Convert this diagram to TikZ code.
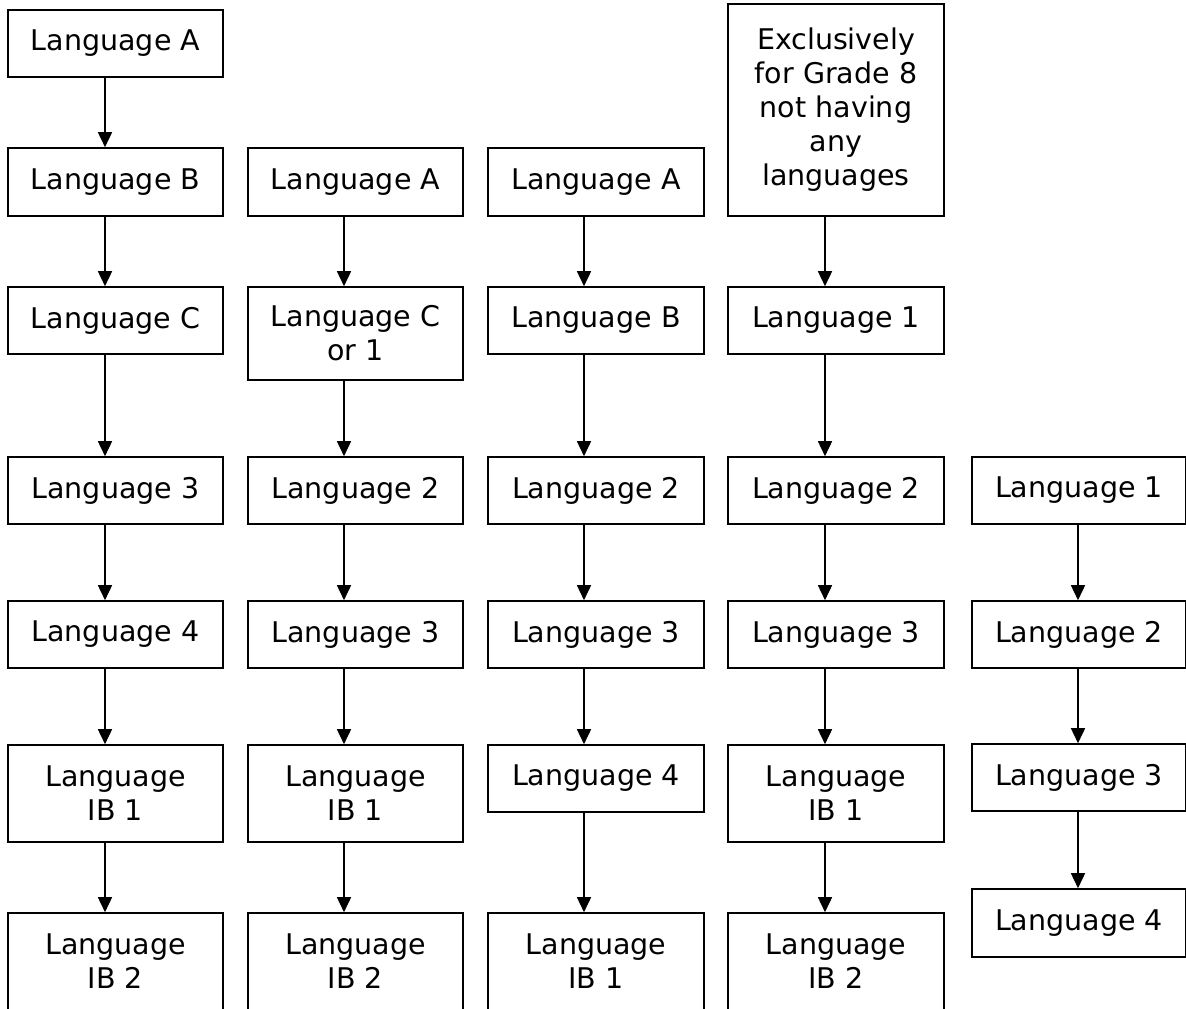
\documentclass[tikz,border=0pt]{standalone}
\usepackage{fontspec}
\setmainfont{DejaVu Sans}
\usetikzlibrary{arrows.meta}
\tikzset{
  box/.style={draw, line width=1.6pt, inner sep=0pt, align=center,
    font=\fontsize{28.5pt}{34pt}\selectfont, minimum height=67pt},
  wa/.style={minimum width=215pt},
  wb/.style={minimum width=216pt},
  wc/.style={minimum width=214pt},
  arr/.style={line width=1.6pt, -{Triangle[length=15pt,width=14pt]}}
}
\begin{document}
\begin{tikzpicture}[x=1pt,y=-1pt]
\fill[white] (0,0) rectangle (1186,1009);
\useasboundingbox (0,0) rectangle (1186,1009);
% column 1
\node[box,wa] (a1) at (115.5,43.5) {Language A};
\node[box,wa,minimum height=68pt] (a2) at (115.5,182) {Language B};
\node[box,wa] (a3) at (115.5,320.5) {Language C};
\node[box,wa] (a4) at (115.5,490.5) {Language 3};
\node[box,wa] (a5) at (115.5,634.5) {Language 4};
\node[box,wa,minimum height=97pt] (a6) at (115.5,793.5) {Language\\IB 1};
\node[box,wa,minimum height=97pt] (a7) at (115.5,961.5) {Language\\IB 2};
% column 2
\node[box,wa,minimum height=68pt] (b2) at (355.5,182) {Language A};
\node[box,wa,minimum height=93pt] (b3) at (355.5,333.5) {Language C\\or 1};
\node[box,wa] (b4) at (355.5,490.5) {Language 2};
\node[box,wa] (b5) at (355.5,634.5) {Language 3};
\node[box,wa,minimum height=97pt] (b6) at (355.5,793.5) {Language\\IB 1};
\node[box,wa,minimum height=97pt] (b7) at (355.5,961.5) {Language\\IB 2};
% column 3
\node[box,wb,minimum height=68pt] (c2) at (596,182) {Language A};
\node[box,wb] (c3) at (596,320.5) {Language B};
\node[box,wb] (c4) at (596,490.5) {Language 2};
\node[box,wb] (c5) at (596,634.5) {Language 3};
\node[box,wb] (c6) at (596,778.5) {Language 4};
\node[box,wb,minimum height=97pt] (c7) at (596,961.5) {Language\\IB 1};
% column 4
\node[box,wb,minimum height=212pt] (d1) at (836,110) {Exclusively\\for Grade 8\\not having\\any\\languages};
\node[box,wb] (d3) at (836,320.5) {Language 1};
\node[box,wb] (d4) at (836,490.5) {Language 2};
\node[box,wb] (d5) at (836,634.5) {Language 3};
\node[box,wb,minimum height=97pt] (d6) at (836,793.5) {Language\\IB 1};
\node[box,wb,minimum height=97pt] (d7) at (836,961.5) {Language\\IB 2};
% column 5
\node[box,wc] (e4) at (1079,490.5) {Language 1};
\node[box,wc] (e5) at (1079,634.5) {Language 2};
\node[box,wc] (e6) at (1079,777.5) {Language 3};
\node[box,wc,minimum height=68pt] (e7) at (1079,923) {Language 4};
% arrows
\foreach \p/\q in {a1/a2,a2/a3,a3/a4,a4/a5,a5/a6,a6/a7}
  \draw[arr] ([xshift=-10.5pt]\p.south) -- ([xshift=-10.5pt]\q.north);
\foreach \p/\q in {b2/b3,b3/b4,b4/b5,b5/b6,b6/b7}
  \draw[arr] ([xshift=-11.5pt]\p.south) -- ([xshift=-11.5pt]\q.north);
\foreach \p/\q in {c2/c3,c3/c4,c4/c5,c5/c6,c6/c7}
  \draw[arr] ([xshift=-12pt]\p.south) -- ([xshift=-12pt]\q.north);
\foreach \p/\q in {d1/d3,d3/d4,d4/d5,d5/d6,d6/d7}
  \draw[arr] ([xshift=-11pt]\p.south) -- ([xshift=-11pt]\q.north);
\foreach \p/\q in {e4/e5,e5/e6,e6/e7}
  \draw[arr] ([xshift=-1pt]\p.south) -- ([xshift=-1pt]\q.north);
\end{tikzpicture}
\end{document}
